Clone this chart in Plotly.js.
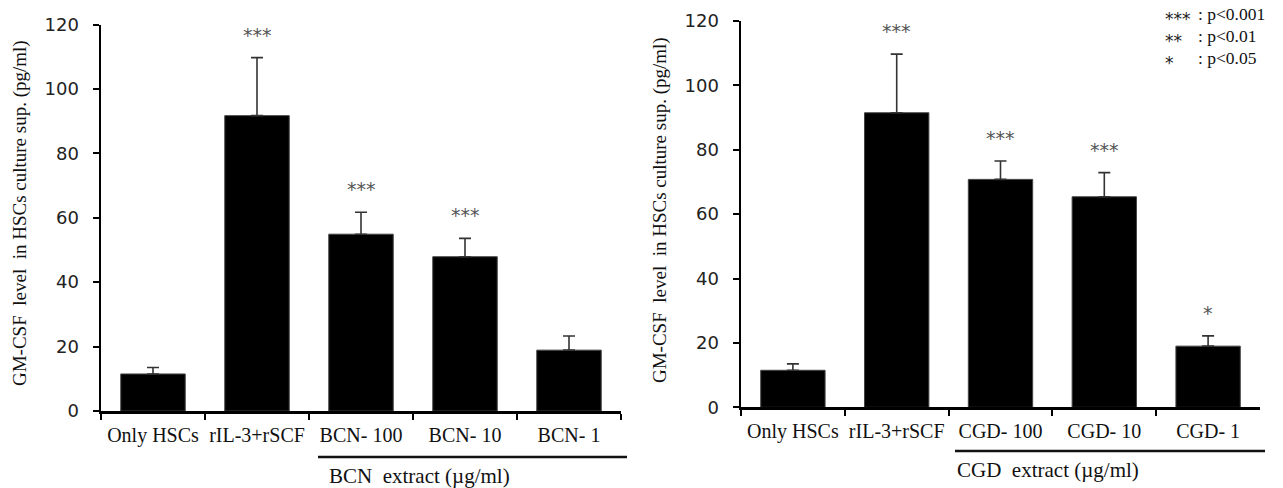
<!DOCTYPE html>
<html>
<head>
<meta charset="utf-8">
<script src="https://cdn.plot.ly/plotly-3.0.1.min.js"></script>
<style>html,body{margin:0;padding:0;background:#fff;}#chart{width:1283px;height:488px;}</style>
</head>
<body>
<div id="chart"></div>
<script>
// ---- data ----
const leftCategories = ["Only HSCs", "rIL-3+rSCF", "BCN- 100", "BCN- 10", "BCN- 1"];
const leftValues = [11.5, 91.7, 54.9, 47.9, 18.9];
const leftErrors = [2.0, 18.0, 6.8, 5.7, 4.4];
const leftStars = ["", "***", "***", "***", ""];

const rightCategories = ["Only HSCs", "rIL-3+rSCF", "CGD- 100", "CGD- 10", "CGD- 1"];
const rightValues = [11.5, 91.5, 70.8, 65.4, 19.0];
const rightErrors = [2.0, 18.2, 5.7, 7.5, 3.2];
const rightStars = ["", "***", "***", "***", "*"];

const yTitle = "GM-CSF&nbsp; level&nbsp; in HSCs culture sup. (pg/ml)";
const leftGroupLabel = "BCN&nbsp; extract (µg/ml)";
const rightGroupLabel = "CGD&nbsp; extract (µg/ml)";
const legendLines = ["***", "**", "*"];
const legendTexts = [": p<0.001", ": p<0.01", ": p<0.05"];

// ---- layout helpers ----
const W = 1283, H = 488;
const px = v => v / W;
const py = v => 1 - v / H;

function barTrace(cats, vals, errs, xa, ya) {
  return {
    type: "bar", x: cats, y: vals, xaxis: xa, yaxis: ya,
    marker: {color: "#000", line: {color: "#444", width: 1}},
    error_y: {type: "data", symmetric: false, array: errs, arrayminus: errs.map(() => 0),
              visible: true, color: "#333", thickness: 1.6, width: 6},
    hoverinfo: "skip", showlegend: false
  };
}

const serif = "Liberation Serif, Times New Roman, serif";
const sans = "DejaVu Sans, Verdana, sans-serif";

function xAxis(domain, anchor) {
  return {
    domain: domain, anchor: anchor, type: "category",
    showline: true, linecolor: "#000", linewidth: 2.5,
    ticks: "outside", tickson: "boundaries", ticklen: 6, tickwidth: 2, tickcolor: "#000",
    tickangle: 0, ticklabelstandoff: 4,
    tickfont: {family: serif, size: 20, color: "#111"},
    showgrid: false, zeroline: false, fixedrange: true
  };
}
function yAxis(domain, anchor) {
  return {
    domain: domain, anchor: anchor, range: [0, 120],
    tickvals: [0, 20, 40, 60, 80, 100, 120],
    showline: true, linecolor: "#000", linewidth: 2.5,
    ticks: "outside", ticklen: 6, tickwidth: 2, tickcolor: "#000",
    ticklabelstandoff: 10,
    tickfont: {family: sans, size: 18, color: "#222"},
    showgrid: false, zeroline: false, fixedrange: true
  };
}

const annotations = [];
function starAnnots(cats, vals, errs, stars, xa, ya) {
  cats.forEach((c, i) => {
    if (!stars[i]) return;
    annotations.push({
      xref: xa, yref: ya, x: c, y: vals[i] + errs[i], text: stars[i],
      showarrow: false, yanchor: "middle", yshift: 23,
      font: {family: sans, size: 19, color: "#555"}
    });
  });
}
starAnnots(leftCategories, leftValues, leftErrors, leftStars, "x", "y");
starAnnots(rightCategories, rightValues, rightErrors, rightStars, "x2", "y2");

// y titles
annotations.push({xref: "paper", yref: "paper", x: px(20), y: py(213), text: yTitle,
  textangle: -90, showarrow: false, xanchor: "center", yanchor: "middle",
  font: {family: serif, size: 19, color: "#111"}});
annotations.push({xref: "paper", yref: "paper", x: px(660), y: py(210), text: yTitle,
  textangle: -90, showarrow: false, xanchor: "center", yanchor: "middle",
  font: {family: serif, size: 19, color: "#111"}});

// group labels
annotations.push({xref: "paper", yref: "paper", x: px(327), y: py(476), text: leftGroupLabel,
  showarrow: false, xanchor: "left", yanchor: "middle", font: {family: serif, size: 21, color: "#111"}});
annotations.push({xref: "paper", yref: "paper", x: px(955), y: py(470), text: rightGroupLabel,
  showarrow: false, xanchor: "left", yanchor: "middle", font: {family: serif, size: 21, color: "#111"}});

// significance legend
legendLines.forEach((s, i) => {
  annotations.push({xref: "paper", yref: "paper", x: px(1163), y: py(19 + i * 22), text: s,
    showarrow: false, xanchor: "left", yanchor: "middle", font: {family: sans, size: 17, color: "#222"}});
  annotations.push({xref: "paper", yref: "paper", x: px(1196), y: py(14 + i * 22), text: legendTexts[i],
    showarrow: false, xanchor: "left", yanchor: "middle", font: {family: serif, size: 17.5, color: "#111"}});
});

const shapes = [
  {type: "line", xref: "paper", yref: "paper", x0: px(318), x1: px(627), y0: py(457), y1: py(457),
   line: {color: "#111", width: 2.5}},
  {type: "line", xref: "paper", yref: "paper", x0: px(955), x1: px(1265), y0: py(451), y1: py(451),
   line: {color: "#111", width: 2.5}}
];

const layout = {
  width: W, height: H,
  margin: {l: 0, r: 0, t: 0, b: 0},
  paper_bgcolor: "#fff", plot_bgcolor: "#fff",
  bargap: 0.38,
  showlegend: false,
  xaxis: xAxis([px(101), px(621)], "y"),
  yaxis: yAxis([77 / H, 463.5 / H], "x"),
  xaxis2: xAxis([px(741), px(1260)], "y2"),
  yaxis2: yAxis([80.7 / H, 467 / H], "x2"),
  annotations: annotations,
  shapes: shapes
};

Plotly.newPlot("chart", [
  barTrace(leftCategories, leftValues, leftErrors, "x", "y"),
  barTrace(rightCategories, rightValues, rightErrors, "x2", "y2")
], layout, {displayModeBar: false, staticPlot: true});
</script>
</body>
</html>
